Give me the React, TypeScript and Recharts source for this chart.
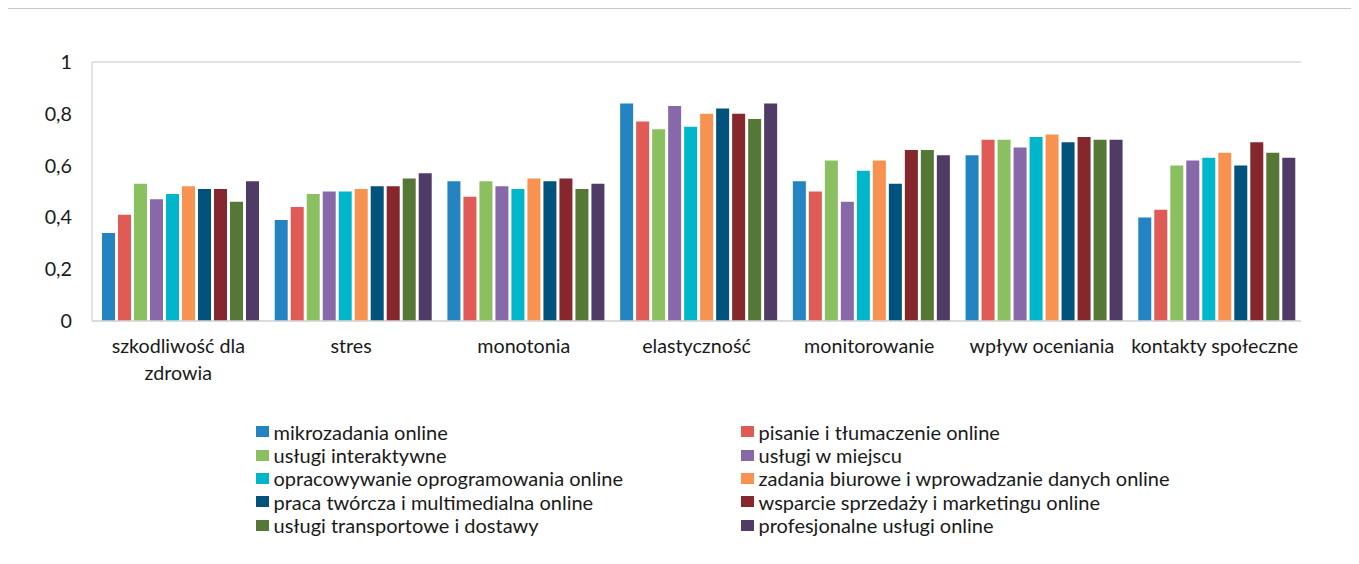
import React from 'react';
import { BarChart, Bar, XAxis, YAxis, CartesianGrid } from 'recharts';

const categories = [
  'szkodliwość dla zdrowia',
  'stres',
  'monotonia',
  'elastyczność',
  'monitorowanie',
  'wpływ oceniania',
  'kontakty społeczne',
];

const seriesNames = [
  'mikrozadania online',
  'pisanie i tłumaczenie online',
  'usługi interaktywne',
  'usługi w miejscu',
  'opracowywanie oprogramowania online',
  'zadania biurowe i wprowadzanie danych online',
  'praca twórcza i multimedialna online',
  'wsparcie sprzedaży i marketingu online',
  'usługi transportowe i dostawy',
  'profesjonalne usługi online',
];

const COLORS = ['#2484c1', '#e05a56', '#8bc060', '#8769aa', '#00b6ca', '#f79250', '#01527c', '#85272d', '#557836', '#4f3b65'];

// one row per series, values in category order
const mikrozadania = [0.34, 0.39, 0.54, 0.84, 0.54, 0.64, 0.4];
const pisanie = [0.41, 0.44, 0.48, 0.77, 0.5, 0.7, 0.43];
const interaktywne = [0.53, 0.49, 0.54, 0.74, 0.62, 0.7, 0.6];
const wMiejscu = [0.47, 0.5, 0.52, 0.83, 0.46, 0.67, 0.62];
const oprogramowanie = [0.49, 0.5, 0.51, 0.75, 0.58, 0.71, 0.63];
const biurowe = [0.52, 0.51, 0.55, 0.8, 0.62, 0.72, 0.65];
const tworcza = [0.51, 0.52, 0.54, 0.82, 0.53, 0.69, 0.6];
const sprzedaz = [0.51, 0.52, 0.55, 0.8, 0.66, 0.71, 0.69];
const transport = [0.46, 0.55, 0.51, 0.78, 0.66, 0.7, 0.65];
const profesjonalne = [0.54, 0.57, 0.53, 0.84, 0.64, 0.7, 0.63];

const seriesValues = [mikrozadania, pisanie, interaktywne, wMiejscu, oprogramowanie, biurowe, tworcza, sprzedaz, transport, profesjonalne];

const yTicks = [0, 0.2, 0.4, 0.6, 0.8, 1];

const data = categories.map((name, i) => {
  const row: Record<string, string | number> = { name };
  seriesValues.forEach((vals, s) => {
    row['s' + s] = vals[i];
  });
  return row;
});

const FONT = 'Lato, "Open Sans", sans-serif';
const GRID = '#d9d9d9';
const INK = '#1a1a1a';
const TICK_SIZE = 19.7;
const MAX_CHARS = 20; // roughly what fits under one category

// greedy word wrap by character count
function wrap(label: string): string[] {
  const lines: string[] = [];
  let cur = '';
  label.split(' ').forEach(w => {
    const next = cur ? cur + ' ' + w : w;
    if (next.length > MAX_CHARS && cur) {
      lines.push(cur);
      cur = w;
    } else {
      cur = next;
    }
  });
  if (cur) lines.push(cur);
  return lines;
}

const CategoryTick = (props: any) => {
  const { x, y, payload } = props;
  return (
    <text x={x} y={y} textAnchor="middle" fontSize={TICK_SIZE} fontFamily={FONT} fill={INK}>
      {wrap(payload.value).map((line, i) => (
        <tspan key={i} x={x} dy={i === 0 ? '0.71em' : 27}>
          {line}
        </tspan>
      ))}
    </text>
  );
};

const App = () => {
  return (
    <div
      style={{
        position: 'relative',
        width: 1352,
        height: 555,
        borderTop: '1px solid #c8c8c8',
        borderLeft: '1px solid #a6a6a6',
        marginLeft: -1,
        background: '#fff',
        fontFamily: FONT,
      }}
    >
      <BarChart
        width={1351}
        height={555}
        data={data}
        margin={{ top: 53, right: 58, left: 24, bottom: 183 }}
        barCategoryGap={10}
        barGap={3}
      >
        <CartesianGrid vertical={false} stroke={GRID} strokeWidth={1.5} />
        <XAxis
          dataKey="name"
          axisLine={{ stroke: GRID, strokeWidth: 1.5 }}
          tickLine={false}
          tickMargin={12}
          tick={<CategoryTick />}
          interval={0}
          height={60}
        />
        <YAxis
          yAxisId="l"
          domain={[0, 1]}
          ticks={yTicks}
          width={60}
          axisLine={{ stroke: GRID, strokeWidth: 1.5 }}
          tickLine={false}
          tickMargin={14}
          tickFormatter={(v: number) => String(v).replace('.', ',')}
          tick={{ fontSize: TICK_SIZE, fontFamily: FONT, fill: INK }}
        />
        <YAxis
          yAxisId="r"
          orientation="right"
          domain={[0, 1]}
          width={0}
          tick={false}
          tickLine={false}
          axisLine={{ stroke: GRID, strokeWidth: 1.5 }}
        />
        {seriesNames.map((n, s) => (
          <Bar key={n} yAxisId="l" dataKey={'s' + s} name={n} fill={COLORS[s]} isAnimationActive={false} />
        ))}
      </BarChart>
      <div
        style={{
          position: 'absolute',
          left: 248,
          top: 411,
          width: 980,
          display: 'flex',
          flexWrap: 'wrap',
          fontSize: 20,
          color: INK,
        }}
      >
        {seriesNames.map((n, s) => (
          <div key={n} style={{ width: 485, height: 23.4, display: 'flex', alignItems: 'center', whiteSpace: 'nowrap' }}>
            <span style={{ width: 12.5, height: 11, background: COLORS[s], marginRight: 5, flexShrink: 0 }} />
            <span>{n}</span>
          </div>
        ))}
      </div>
    </div>
  );
};

export default App;
